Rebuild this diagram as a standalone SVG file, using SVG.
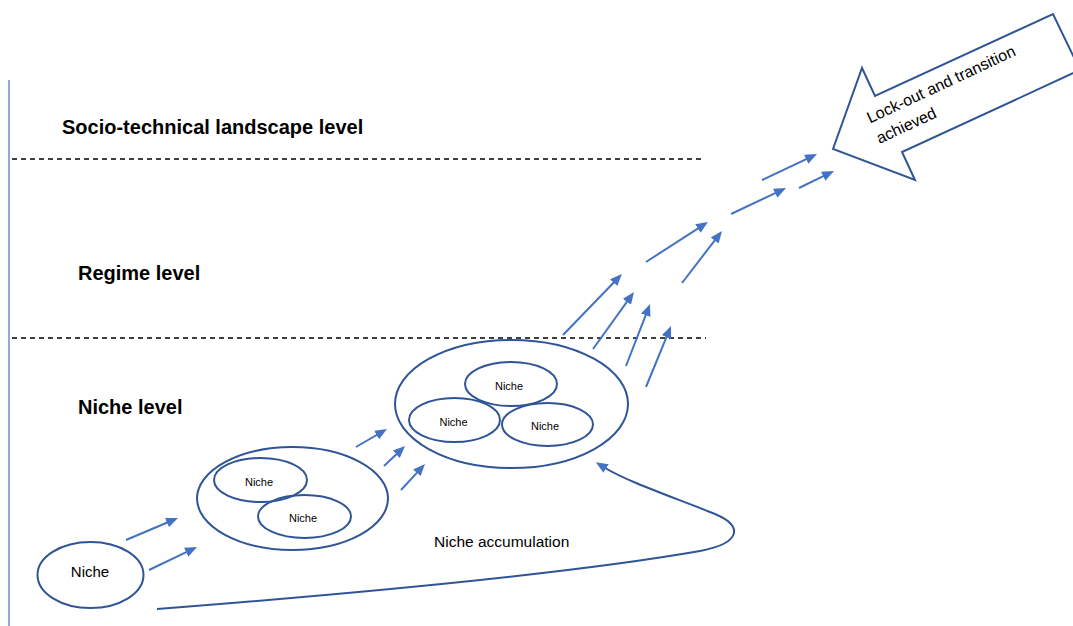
<svg xmlns="http://www.w3.org/2000/svg" width="1073" height="626" viewBox="0 0 1073 626">
<style>
  .lvl{font-family:"Liberation Sans",Arial,sans-serif;font-weight:bold;font-size:20px;fill:#000}
  .lbl{font-family:"Liberation Sans",Arial,sans-serif;fill:#000}
  .sm{font-size:11px;text-anchor:middle}
  .ell{fill:none;stroke:#2F5597;stroke-width:2}
  .arr{fill:none;stroke:#4472C4;stroke-width:2;marker-end:url(#ah)}
  .dash{stroke:#000;stroke-width:1.4;stroke-dasharray:5 4}
</style>
<defs>
  <marker id="ah" markerUnits="userSpaceOnUse" markerWidth="12" markerHeight="10" refX="3" refY="5" orient="auto">
    <path d="M0,0 L12,5 L0,10 z" fill="#4472C4"/>
  </marker>
</defs>
<rect width="1073" height="626" fill="#fff"/>
<line x1="9" y1="80" x2="9" y2="626" stroke="#8EA9DB" stroke-width="2"/>
<g id="levels">
  <line class="dash" x1="12" y1="159" x2="705" y2="159"/>
  <line class="dash" x1="12" y1="338" x2="706" y2="338"/>
  <text class="lvl" x="62" y="134">Socio-technical landscape level</text>
  <text class="lvl" x="78" y="280">Regime level</text>
  <text class="lvl" x="78" y="414">Niche level</text>
</g>
<g id="niche-single">
  <ellipse class="ell" cx="90.5" cy="575" rx="53" ry="33"/>
  <text class="lbl" x="90" y="577" font-size="15" text-anchor="middle">Niche</text>
</g>
<g id="niche-pair">
  <ellipse class="ell" cx="292.5" cy="498.5" rx="95.5" ry="51.5"/>
  <ellipse class="ell" cx="260.5" cy="480" rx="46.5" ry="22"/>
  <text class="lbl sm" x="259" y="485.5">Niche</text>
  <ellipse class="ell" cx="304.5" cy="516.5" rx="46.5" ry="21.5"/>
  <text class="lbl sm" x="303" y="522">Niche</text>
</g>
<g id="niche-triple">
  <ellipse class="ell" cx="511.5" cy="404" rx="116.5" ry="64"/>
  <ellipse class="ell" cx="511" cy="384" rx="46" ry="22"/>
  <text class="lbl sm" x="509" y="389.5">Niche</text>
  <ellipse class="ell" cx="454.5" cy="420" rx="45.5" ry="22"/>
  <text class="lbl sm" x="453.5" y="425.5">Niche</text>
  <ellipse class="ell" cx="547.5" cy="424.5" rx="45.5" ry="21.5"/>
  <text class="lbl sm" x="545" y="430">Niche</text>
</g>
<g id="accumulation-label">
  <text class="lbl" x="434" y="547" font-size="15.5">Niche accumulation</text>
</g>
<g id="transition-arrow">
  <polygon points="833,149 862,68 875,96 1053,14 1080,70 902,152 915,180" fill="#fff" stroke="#2F5597" stroke-width="2" stroke-linejoin="miter"/>
  <text class="lbl" font-size="16" transform="translate(870,123.5) rotate(-25)"><tspan x="0" y="0">Lock-out and transition</tspan><tspan x="0" y="22.6">achieved</tspan></text>
</g>
<g id="connectors">
  <path d="M157,609 C400,590 580,572 700,551 C742,543 745,525 710,512 C670,496 628,482 603.5,467" fill="none" stroke="#2F5597" stroke-width="2" marker-end="url(#ah)"/>
  <line class="arr" x1="126" y1="540" x2="169.7" y2="521.5"/>
  <line class="arr" x1="149" y1="570" x2="188.9" y2="550.9"/>
  <line class="arr" x1="356" y1="447" x2="379.2" y2="433.5"/>
  <line class="arr" x1="384" y1="466" x2="398.5" y2="452.2"/>
  <line class="arr" x1="401" y1="490" x2="418.9" y2="470.6"/>
  <line class="arr" x1="563" y1="335" x2="615.7" y2="280.5"/>
  <line class="arr" x1="593" y1="349" x2="628.7" y2="299.3"/>
  <line class="arr" x1="626" y1="366" x2="646.8" y2="312.4"/>
  <line class="arr" x1="646" y1="387" x2="667.6" y2="334.3"/>
  <line class="arr" x1="646" y1="262" x2="700.4" y2="226.9"/>
  <line class="arr" x1="682" y1="283" x2="716.5" y2="238.1"/>
  <line class="arr" x1="731" y1="214" x2="777.9" y2="191.9"/>
  <line class="arr" x1="762" y1="180" x2="808.9" y2="157.9"/>
  <line class="arr" x1="799" y1="188" x2="825.9" y2="174.9"/>
</g>
</svg>
